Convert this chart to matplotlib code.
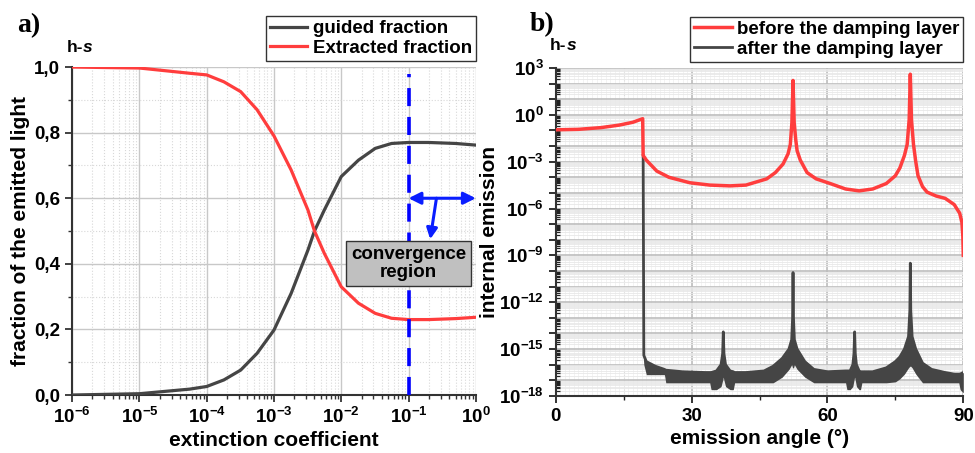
import numpy as np
import matplotlib
matplotlib.use('Agg')
import matplotlib.pyplot as plt
from matplotlib.ticker import FixedLocator, FuncFormatter, LogLocator, MultipleLocator, NullFormatter

plt.rcParams['font.family'] = ['Liberation Sans', 'DejaVu Sans']
plt.rcParams['font.weight'] = 'bold'
plt.rcParams['mathtext.fontset'] = 'custom'
plt.rcParams['mathtext.rm'] = 'Liberation Sans:bold'
plt.rcParams['mathtext.bf'] = 'Liberation Sans:bold'
plt.rcParams['mathtext.default'] = 'bf'

# ---- panel a) data (read off the picture)
ext_coef = [1e-6, 1e-5, 5.6e-5, 1e-4, 1.8e-4, 3.2e-4, 5.6e-4, 1e-3, 1.8e-3, 3.2e-3,
            4e-3, 5.6e-3, 1e-2, 1.8e-2, 3.2e-2, 5.6e-2, 1e-1, 2e-1, 5e-1, 1.0]
guided = [0.0, 0.004, 0.018, 0.026, 0.046, 0.076, 0.127, 0.198, 0.31, 0.442,
          0.50, 0.564, 0.666, 0.716, 0.752, 0.767, 0.77, 0.77, 0.767, 0.762]
extracted = [1.0, 0.997, 0.981, 0.976, 0.955, 0.925, 0.87, 0.79, 0.686, 0.564,
             0.50, 0.432, 0.33, 0.28, 0.249, 0.234, 0.23, 0.23, 0.233, 0.237]
x_ticks_a = [1e-6, 1e-5, 1e-4, 1e-3, 1e-2, 1e-1, 1.0]
x_labels_a = [r'$10^{-6}$', r'$10^{-5}$', r'$10^{-4}$', r'$10^{-3}$',
              r'$10^{-2}$', r'$10^{-1}$', r'$10^{0}$']
conv_x = 0.1
conv_y = 0.6

# ---- panel b) data, log10 of internal emission vs angle
red_angle = [0, 5, 10, 14, 17, 19.2, 19.3, 20, 22.3, 25, 29.6, 34, 38.5, 42, 46.6,
             48.5, 50.2, 51.3, 51.8, 52.15, 52.4, 52.65, 53.0, 53.3, 54, 55.5, 57.5,
             60.6, 64, 67, 70, 73, 75, 76, 77, 77.6, 78.05, 78.3, 78.55, 79, 79.5,
             80, 81, 82, 84, 86, 88, 89.2, 89.7, 89.9, 90]
red_log = [-0.96, -0.93, -0.82, -0.66, -0.48, -0.25, -2.6, -2.9, -3.6, -4.0, -4.35,
           -4.5, -4.55, -4.5, -4.1, -3.7, -3.15, -2.5, -1.9, -0.5, 2.2, -0.5, -1.6,
           -2.3, -2.9, -3.7, -4.1, -4.4, -4.75, -4.87, -4.75, -4.4, -3.9, -3.4, -2.6,
           -1.9, -0.3, 2.6, -0.3, -1.9, -3.0, -3.9, -4.6, -4.95, -5.2, -5.35, -5.75,
           -6.3, -6.9, -7.8, -9.0]

dark_angle = [19.3, 19.45, 20, 22, 24, 24.3, 28, 33, 34, 34.3, 35.5, 36.5, 36.85, 37.0,
              37.15, 37.5, 38.5, 39.2, 39.5, 42, 46, 48, 50, 51.5, 52.1, 52.3, 52.4,
              52.5, 52.7, 53.3, 55, 57, 60, 64, 64.3, 65, 65.6, 65.85, 66.0, 66.15,
              66.4, 67, 67.3, 67.6, 70, 73, 75, 76, 77, 77.9, 78.2, 78.3, 78.4, 78.7,
              79.5, 81, 83, 86, 88, 89, 89.3, 90]
dark_upper = [-2.6, -15.4, -15.8, -16.1, -16.3, -16.35, -16.45, -16.5, -16.5, -16.5,
              -16.4, -16.0, -15.3, -13.9, -15.3, -16.0, -16.4, -16.45, -16.5, -16.5,
              -16.4, -16.1, -15.6, -15.0, -14.4, -13.0, -10.1, -13.0, -14.4, -15.0,
              -15.8, -16.3, -16.45, -16.4, -16.4, -16.4, -16.0, -15.3, -13.9, -15.3,
              -16.0, -16.4, -16.45, -16.45, -16.45, -16.2, -15.8, -15.5, -15.0, -14.2,
              -12.5, -9.5, -12.5, -14.2, -15.0, -15.9, -16.3, -16.5, -16.6, -16.6,
              -16.6, -16.5]
dark_lower = [-15.4, -16.0, -16.64, -16.64, -16.64, -17.16, -17.16, -17.16, -17.16,
              -17.6, -17.6, -17.4, -17.0, -16.8, -17.0, -17.4, -17.6, -17.6, -17.16,
              -17.16, -17.16, -17.16, -16.8, -16.3, -16.0, -16.2, -16.2, -16.2, -16.0,
              -16.3, -16.8, -17.16, -17.16, -17.16, -17.6, -17.6, -17.4, -17.0, -16.8,
              -17.0, -17.4, -17.6, -17.6, -17.16, -17.16, -17.16, -17.1, -16.9, -16.6,
              -16.2, -16.1, -16.1, -16.1, -16.2, -16.6, -17.16, -17.16, -17.16, -17.16,
              -17.16, -17.6, -17.8]
y_exp_b = list(range(-18, 4))
x_ticks_b = [0, 30, 60, 90]

red = '#ff3d3d'
dark = '#454545'
grid_c = '#c8c8c8'

fig = plt.figure(figsize=(9.75, 4.53), dpi=100)
ax1 = fig.add_axes([0.074, 0.128, 0.414, 0.724])
ax2 = fig.add_axes([0.570, 0.126, 0.418, 0.724])

# ================= panel a
ax1.plot(ext_coef, guided, color=dark, lw=2.3, label='guided fraction', zorder=3)
ax1.plot(ext_coef, extracted, color=red, lw=2.3, label='Extracted fraction', zorder=3)
ax1.set_xscale('log')
ax1.set_xlim(1e-6, 1)
ax1.set_ylim(0, 1)
ax1.xaxis.set_major_locator(FixedLocator(x_ticks_a))
ax1.set_xticklabels(x_labels_a)
ax1.xaxis.set_minor_locator(LogLocator(base=10, subs=range(2, 10), numticks=50))
ax1.xaxis.set_minor_formatter(NullFormatter())
ax1.yaxis.set_major_locator(MultipleLocator(0.2))
ax1.yaxis.set_minor_locator(MultipleLocator(0.1))
ax1.yaxis.set_major_formatter(FuncFormatter(lambda v, p: f'{v:.1f}'.replace('.', ',')))
ax1.grid(which='major', color=grid_c, lw=1.0)
ax1.grid(which='minor', color='#d8d8d8', lw=0.8, ls=':')
ax1.tick_params(which='major', length=5, width=1.3, labelsize=13.5, color='#333333')
ax1.tick_params(which='minor', length=3, width=1.0, color='#333333')
for s in ['top', 'right']:
    ax1.spines[s].set_visible(False)
for s in ['left', 'bottom']:
    ax1.spines[s].set_color('#333333')
    ax1.spines[s].set_linewidth(1.5)
ax1.set_xlabel('extinction coefficient', fontsize=15, fontweight='bold', labelpad=3)
ax1.set_ylabel('fraction of the emitted light', fontsize=15, fontweight='bold', labelpad=3)

ax1.axvline(conv_x, color='#0000ff', lw=2.6, ls=(0, (5, 3)), ymax=0.98, zorder=4)
ax1.annotate('', xy=(1.0, conv_y), xytext=(conv_x, conv_y),
             arrowprops=dict(arrowstyle='<|-|>', color='#0a1eff', lw=2.2,
                             mutation_scale=18, shrinkA=0, shrinkB=0), zorder=5)
ax1.annotate('', xy=(0.21, 0.475), xytext=(0.26, conv_y),
             arrowprops=dict(arrowstyle='-|>', color='#0a1eff', lw=2.2,
                             mutation_scale=16, shrinkA=0, shrinkB=0), zorder=5)
ax1.text(conv_x, 0.4, 'convergence\nregion', ha='center', va='center', fontsize=13.5,
         fontweight='bold', linespacing=1.1, zorder=6,
         bbox=dict(boxstyle='square,pad=0.25', fc='#c0c0c0', ec='#333333', lw=1))

leg1 = ax1.legend(loc='upper right', bbox_to_anchor=(1.0, 1.155), fontsize=13.5,
                  frameon=True, fancybox=False, framealpha=1, edgecolor='#333333',
                  handlelength=2.0, borderpad=0.2, labelspacing=0.15, handletextpad=0.3,
                  borderaxespad=0)
leg1.get_frame().set_linewidth(1.0)

fig.text(0.018, 0.928, 'a)', family='Liberation Serif', fontsize=20, fontweight='bold')
t1 = fig.text(0.068, 0.886, 'h-', fontsize=12.5, fontweight='bold')
ax1.annotate('s', xy=(1, 0), xycoords=t1, va='bottom', ha='left', fontsize=12.5,
             fontweight='bold', fontstyle='italic', annotation_clip=False)

# ================= panel b
ax2.fill_between(dark_angle, 10.0 ** np.array(dark_lower), 10.0 ** np.array(dark_upper),
                 color=dark, lw=0, zorder=2)
ax2.plot(dark_angle, 10.0 ** np.array(dark_upper), color=dark, lw=2.0,
         label='after the damping layer', zorder=3)
ax2.plot(red_angle, 10.0 ** np.array(red_log), color=red, lw=2.5,
         label='before the damping layer', zorder=4)
ax2.set_yscale('log')
ax2.set_xlim(0, 90)
ax2.set_ylim(1e-18, 1e3)
ax2.xaxis.set_major_locator(FixedLocator(x_ticks_b))
ax2.xaxis.set_minor_locator(MultipleLocator(15))
ax2.yaxis.set_major_locator(FixedLocator([10.0 ** e for e in y_exp_b]))
ax2.yaxis.set_major_formatter(FuncFormatter(
    lambda v, p: (r'$10^{%d}$' % round(np.log10(v))) if round(np.log10(v)) % 3 == 0 else ''))
ax2.yaxis.set_minor_locator(LogLocator(base=10, subs=range(2, 10), numticks=200))
ax2.yaxis.set_minor_formatter(NullFormatter())
ax2.grid(which='major', axis='both', color='#bdbdbd', lw=1.2)
ax2.grid(which='minor', axis='y', color='#e8e8e8', lw=0.6)
ax2.grid(which='minor', axis='x', color='#dcdcdc', lw=0.8, ls=':')
ax2.vlines(np.arange(1, 90), 0, 1, transform=ax2.get_xaxis_transform(),
           color='#eeeeee', lw=0.5, zorder=0)
ax2.tick_params(which='major', length=5, width=1.3, labelsize=13.5, color='#222222')
ax2.tick_params(axis='y', which='minor', length=3, width=0.9, direction='in', color='#222222')
ax2.tick_params(axis='x', which='minor', length=3, width=1.0, color='#222222')
for s in ['top', 'right']:
    ax2.spines[s].set_visible(False)
for s in ['left', 'bottom']:
    ax2.spines[s].set_color('#333333')
    ax2.spines[s].set_linewidth(1.5)
ax2.set_xlabel('emission angle (°)', fontsize=15, fontweight='bold', labelpad=3)
ax2.set_ylabel('internal emission', fontsize=15, fontweight='bold', labelpad=0)

h, l = ax2.get_legend_handles_labels()
leg2 = ax2.legend(h[::-1], l[::-1], loc='upper right', bbox_to_anchor=(1.0, 1.155),
                  fontsize=13.5, frameon=True, fancybox=False, framealpha=1,
                  edgecolor='#333333', handlelength=2.0, borderpad=0.2,
                  labelspacing=0.15, handletextpad=0.3, borderaxespad=0)
leg2.get_frame().set_linewidth(1.0)

fig.text(0.543, 0.932, 'b)', family='Liberation Serif', fontsize=20, fontweight='bold')
t2 = fig.text(0.564, 0.889, 'h-', fontsize=12.5, fontweight='bold')
ax2.annotate('s', xy=(1, 0), xycoords=t2, va='bottom', ha='left', fontsize=12.5,
             fontweight='bold', fontstyle='italic', annotation_clip=False)

fig.savefig('out.png', dpi=100)
